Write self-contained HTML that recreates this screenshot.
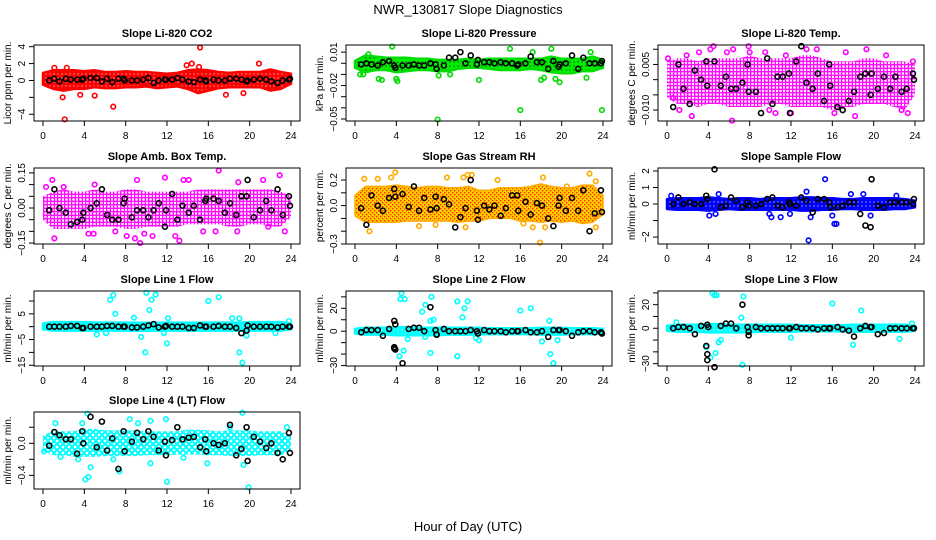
<!DOCTYPE html>
<html><head><meta charset="utf-8"><style>
html,body{margin:0;padding:0;background:#fff;}
svg{display:block;font-family:"Liberation Sans",sans-serif;}
</style></head><body>
<svg id="chart" width="936" height="540" viewBox="0 0 936 540" xmlns="http://www.w3.org/2000/svg">
<defs>
<pattern id="pRed" width="4" height="4" patternUnits="userSpaceOnUse"><rect width="4" height="4" fill="#ff0000"/><rect x="1.5" y="1.5" width="1" height="1" fill="#fff"/></pattern>
<pattern id="pGreen" width="4" height="4" patternUnits="userSpaceOnUse"><rect width="4" height="4" fill="#00ee00"/><rect x="1.5" y="1.5" width="1" height="1" fill="#000"/></pattern>
<pattern id="pMag" width="7" height="7" patternUnits="userSpaceOnUse"><rect width="7" height="7" fill="#fff"/><circle cx="3.5" cy="3.5" r="2" fill="none" stroke="#ff00ff" stroke-width="1.4"/><circle cx="0" cy="0" r="1.8" fill="none" stroke="#ff00ff" stroke-width="1.2"/><circle cx="7" cy="7" r="1.8" fill="none" stroke="#ff00ff" stroke-width="1.2"/><circle cx="0" cy="7" r="1.8" fill="none" stroke="#ff00ff" stroke-width="1.2"/><circle cx="7" cy="0" r="1.8" fill="none" stroke="#ff00ff" stroke-width="1.2"/></pattern>
<pattern id="pRH" width="4" height="4" patternUnits="userSpaceOnUse"><rect width="4" height="4" fill="#ffcc00"/><rect x="0" y="0" width="1.3" height="1.3" fill="#ff2200"/><rect x="2" y="2" width="1.3" height="1.3" fill="#ff2200"/></pattern>
<pattern id="pBlue" width="4" height="4" patternUnits="userSpaceOnUse"><rect width="4" height="4" fill="#0000ff"/><rect x="1.5" y="1.5" width="1" height="1" fill="#fff"/></pattern>
<pattern id="pCyan" width="4" height="4" patternUnits="userSpaceOnUse"><rect width="4" height="4" fill="#00ffff"/><rect x="1.5" y="1.5" width="1" height="1" fill="#fff"/></pattern>
<pattern id="pCyanS" width="6" height="6" patternUnits="userSpaceOnUse"><rect width="6" height="6" fill="#fff"/><circle cx="3" cy="3" r="2.2" fill="none" stroke="#00ffff" stroke-width="1.7"/><circle cx="0" cy="0" r="2" fill="none" stroke="#00ffff" stroke-width="1.5"/><circle cx="6" cy="6" r="2" fill="none" stroke="#00ffff" stroke-width="1.5"/><circle cx="0" cy="6" r="2" fill="none" stroke="#00ffff" stroke-width="1.5"/><circle cx="6" cy="0" r="2" fill="none" stroke="#00ffff" stroke-width="1.5"/></pattern>
</defs>
<text x="468" y="14" text-anchor="middle" font-size="13">NWR_130817  Slope Diagnostics</text>
<text x="468" y="531" text-anchor="middle" font-size="13">Hour of Day (UTC)</text>
</svg>
<script>
// ----- shared data -----
const bandHours = [0,1,2,3,4,5,6,7,8,9,10,11,12,13,14,15,16,17,18,19,20,21,22,23,24];
const xTicks = [0,4,8,12,16,20,24];
const blackHours = [0.6,1.1,1.6,2.2,2.7,3.3,3.8,3.9,4.6,5.2,5.7,6.2,6.7,7.3,7.8,7.9,8.6,9.1,9.7,10.2,10.7,11.2,11.8,11.9,12.5,13.0,13.5,14.1,14.6,15.2,15.7,15.8,16.5,17.0,17.6,18.1,18.7,19.2,19.7,19.8,20.4,21.0,21.6,22.1,22.7,23.2,23.8,23.9];

// CO2
const co2Hi = [0.9,1.2,1.2,1.2,1.1,1.2,1.0,1.0,1.1,1.0,1.0,0.9,0.8,0.9,1.2,1.3,1.2,1.0,0.9,1.0,1.0,1.0,1.3,1.0,0.8];
const co2Lo = [-0.5,-1.0,-1.2,-1.0,-1.0,-0.8,-0.9,-0.9,-0.8,-0.8,-0.7,-0.9,-0.8,-0.7,-1.0,-1.5,-1.2,-0.9,-0.8,-0.8,-0.8,-0.8,-1.2,-1.0,-0.4];
const co2Out = [[2.1,-4.6],[6.8,-3.1],[15.2,3.9],[1.9,-2.0],[3.6,-1.7],[5.0,-1.8],[17.7,-1.7],[19.4,-1.5],[14.4,2.0],[20.9,2.0],[1.1,1.5],[2.3,1.5],[13.9,1.8],[15.1,1.6]];
const co2Black = [0,0.2,-0.1,0.2,0.1,0.1,0.1,0.2,0.3,0.3,-0.1,0.2,-0.2,0.2,0.2,0,0,0,0.1,0.3,-0.3,0,0.1,0.1,0.1,0.3,0.1,-0.1,-0.2,0.1,0,-0.1,0.1,0,0,0.2,0.2,0.1,-0.1,0,0.1,0.2,0.1,-0.1,-0.3,0,0.1,0.2];
const co2Ticks = [-4,-2,0,2,4];
const co2Labels = ["−4","","0","2","4"];

// Pressure
const presHi = [0.002,0.007,0.006,0.005,0.005,0.005,0.004,0.004,0.003,0.003,0.003,0.004,0.003,0.004,0.004,0.004,0.004,0.004,0.004,0.006,0.004,0.004,0.004,0.006,0.003];
const presLo = [-0.004,-0.008,-0.006,-0.006,-0.008,-0.007,-0.006,-0.006,-0.007,-0.007,-0.005,-0.004,-0.004,-0.005,-0.006,-0.006,-0.006,-0.005,-0.006,-0.008,-0.009,-0.009,-0.007,-0.007,-0.004];
const presOut = [[0.5,-0.010],[0.8,-0.010],[2.3,-0.014],[2.6,-0.015],[3.6,0.015],[4.0,-0.014],[4.1,-0.016],[8.0,-0.0505],[8.1,-0.011],[9.2,-0.010],[12.0,-0.015],[15.0,0.013],[16.0,-0.042],[18.0,-0.015],[18.3,-0.013],[19.0,0.013],[19.4,-0.014],[19.8,-0.017],[22.4,-0.013],[23.9,-0.042],[1.3,0.008],[17.2,0.010],[22.8,0.010]];
const presBlack = [-0.001,0,-0.001,-0.002,0.001,0.002,-0.002,-0.004,-0.002,-0.002,-0.001,-0.002,-0.002,0,-0.001,-0.005,-0.002,0.005,0.005,0.010,0,0.007,-0.001,0.003,0.001,0.001,0,0.001,0,0,-0.002,-0.001,0,0.006,0.001,0.001,-0.005,0.002,-0.003,-0.001,0,0.007,-0.005,0.005,0,0,0,0.002];
const presTicks = [0.01,0,-0.01,-0.02,-0.03,-0.04,-0.05];
const presLabels = ["0.01","","","−0.02","","","−0.05"];

// Li-820 Temp
const tempHi = [0.006,0.007,0.007,0.006,0.007,0.007,0.007,0.007,0.008,0.007,0.007,0.007,0.007,0.008,0.008,0.007,0.006,0.006,0.006,0.007,0.007,0.006,0.006,0.006,0.005];
const tempLo = [-0.006,-0.008,-0.008,-0.009,-0.008,-0.008,-0.009,-0.009,-0.009,-0.009,-0.008,-0.008,-0.009,-0.009,-0.009,-0.009,-0.010,-0.009,-0.009,-0.008,-0.008,-0.008,-0.009,-0.010,-0.005];
const tempOut = [[0.1,0.007],[0.6,-0.006],[1.2,-0.010],[1.9,0.008],[2.4,-0.012],[3.1,0.009],[4.2,0.010],[4.5,0.011],[6.3,-0.0135],[6.4,0.010],[7.9,0.011],[8.0,0.009],[9.5,0.009],[10.5,-0.011],[12.0,-0.011],[13.5,0.010],[14.5,0.010],[16.2,-0.011],[17.3,0.009],[18.2,-0.012],[19.3,0.010],[21.2,0.008],[22.7,-0.010],[23.3,-0.011],[23.8,0.006],[5.8,0.009],[9.9,-0.010],[11.5,0.008]];
const tempBlack = [-0.009,0.005,-0.003,-0.008,0.003,0,0.006,-0.002,0.006,-0.002,0.001,-0.003,-0.003,-0.001,0.005,-0.004,-0.004,-0.011,0.007,-0.008,0.001,0.001,0.002,-0.011,0.006,0.011,-0.001,-0.003,0.002,-0.007,0.005,-0.002,-0.009,-0.010,-0.007,-0.004,0.001,0.002,-0.005,0.002,-0.003,0.001,-0.003,0.001,-0.004,-0.003,0.002,0];
const tempTicks = [0.010,0.005,0,-0.005,-0.010];
const tempLabels = ["","0.005","","","−0.010"];

// Amb box temp
const ambHi = [0.05,0.07,0.08,0.07,0.07,0.08,0.07,0.07,0.08,0.08,0.07,0.07,0.07,0.07,0.07,0.08,0.08,0.08,0.08,0.08,0.08,0.08,0.08,0.07,0.05];
const ambLo = [-0.05,-0.09,-0.09,-0.09,-0.09,-0.08,-0.08,-0.08,-0.09,-0.09,-0.08,-0.08,-0.08,-0.08,-0.07,-0.07,-0.07,-0.07,-0.08,-0.08,-0.07,-0.07,-0.08,-0.08,-0.04];
const ambOut = [[0.3,0.09],[1.1,-0.13],[0.9,0.12],[4.4,-0.11],[4.9,-0.11],[7.0,-0.10],[8.1,-0.12],[8.9,-0.13],[9.4,-0.15],[9.8,-0.11],[9.1,0.12],[11.8,0.13],[10.6,-0.12],[12.8,-0.12],[13.2,-0.14],[13.6,0.12],[14.1,0.12],[17.0,0.16],[16.7,-0.10],[15.5,-0.10],[18.9,0.11],[18.8,-0.10],[21.3,0.12],[22.9,0.14],[23.4,-0.10],[21.8,-0.08],[5.0,0.10],[2.0,0.09]];
const ambBlack = [-0.01,0.08,0,-0.02,-0.07,-0.06,-0.05,-0.02,0,0.02,0.08,-0.03,-0.05,-0.05,0.02,0.04,-0.04,-0.01,-0.01,-0.04,-0.01,0.02,-0.08,-0.01,0.06,-0.05,0.01,-0.02,0.01,-0.05,0.03,0.04,0.04,0.03,-0.02,0.02,-0.03,0.05,0.05,0.12,-0.04,-0.01,0.03,-0.01,0.08,-0.03,0.05,0.01];
const ambTicks = [0.15,0.10,0.05,0,-0.05,-0.10,-0.15];
const ambLabels = ["0.15","","","0.00","","","−0.15"];

// Gas stream RH
const rhHi = [0.08,0.15,0.15,0.15,0.16,0.15,0.14,0.15,0.15,0.14,0.14,0.15,0.12,0.12,0.14,0.14,0.14,0.15,0.17,0.15,0.14,0.14,0.16,0.16,0.08];
const rhLo = [-0.08,-0.13,-0.13,-0.13,-0.13,-0.12,-0.12,-0.12,-0.12,-0.12,-0.13,-0.12,-0.12,-0.10,-0.10,-0.10,-0.12,-0.12,-0.13,-0.12,-0.13,-0.12,-0.14,-0.13,-0.07];
const rhOut = [[0.9,0.21],[1.4,-0.20],[2.2,0.21],[3.9,0.26],[3.5,0.22],[6.2,-0.16],[7.8,-0.15],[8.9,0.22],[10.5,0.22],[10.7,-0.17],[10.9,0.24],[11.3,0.24],[13.8,0.20],[16.3,-0.14],[17.2,-0.17],[17.9,-0.29],[18.2,0.22],[20.5,0.15],[22.7,0.25],[23.3,-0.17],[23.3,0.19],[18.4,-0.17]];
const rhBlack = [-0.02,-0.15,0.08,0,-0.04,0.06,0.13,0.07,0.09,-0.01,0.15,-0.04,0.06,-0.03,0.07,-0.02,0.05,0.01,-0.17,-0.09,-0.02,0.20,-0.04,-0.11,0,-0.03,0,-0.08,-0.02,0.08,0.08,-0.04,0.03,-0.07,0.02,0,-0.10,-0.16,0,0.06,-0.04,0.06,-0.04,0.12,-0.20,-0.06,0.12,-0.05];
const rhTicks = [0.2,0.1,0,-0.1,-0.2,-0.3];
const rhLabels = ["0.2","","0.0","","","−0.3"];

// Sample flow
const sfHi = [0.3,0.35,0.35,0.35,0.4,0.35,0.3,0.35,0.35,0.3,0.35,0.35,0.35,0.4,0.4,0.35,0.35,0.3,0.3,0.35,0.35,0.35,0.35,0.3,0.2];
const sfLo = [-0.3,-0.35,-0.35,-0.35,-0.4,-0.35,-0.3,-0.35,-0.35,-0.35,-0.35,-0.35,-0.35,-0.4,-0.4,-0.35,-0.35,-0.3,-0.3,-0.35,-0.35,-0.35,-0.3,-0.3,-0.2];
const sfOut = [[0.4,0.5],[4.1,-0.7],[4.7,-0.6],[5.0,0.6],[9.9,-0.6],[10.1,-0.8],[11.0,-0.8],[11.9,-0.6],[13.5,0.75],[13.7,-2.2],[13.9,-0.8],[15.3,1.5],[16.0,-0.7],[16.2,-1.2],[16.4,-1.2],[17.8,0.6],[19.0,0.6],[19.7,-0.7],[22.2,0.5]];
const sfBlack = [0,0.4,0,0.1,0,0,0.5,0.3,2.1,-0.2,-0.1,0.4,0.2,-0.2,0.1,-0.1,-0.1,0,0.3,0.4,-0.1,-0.2,0.1,0,-0.1,0.4,0.2,-0.5,0.3,0.3,0.1,-0.2,-0.2,-0.1,0.1,0.1,-0.6,-1.3,-1.4,1.5,-0.1,-0.2,0.1,0.1,0.1,0.1,0,0.3];
const sfTicks = [2,1,0,-1,-2];
const sfLabels = ["2","1","0","","−2"];

// Line 1 flow
const l1Hi = [1.2,1.8,1.8,1.8,1.8,1.6,1.6,1.6,1.6,1.5,1.5,1.5,1.5,1.5,1.5,1.5,1.6,1.6,1.6,1.6,1.8,1.8,1.8,1.8,1.2];
const l1Lo = [-1.0,-1.5,-1.5,-1.5,-1.5,-1.5,-1.5,-1.5,-1.5,-1.6,-1.6,-1.5,-1.5,-1.5,-1.6,-1.5,-1.5,-1.5,-1.5,-1.5,-1.5,-1.5,-1.5,-1.5,-1.0];
const l1Out = [[6.5,10.5],[6.8,12.3],[7.0,5.0],[10.0,13.2],[10.3,6.5],[10.5,10.5],[10.9,12.5],[16.0,10.0],[17.0,11.5],[5.2,-3.0],[6.1,-2.5],[9.5,-4.0],[9.9,-10.0],[11.7,-2.5],[12.0,-6.5],[8.8,3.5],[12.1,3.3],[18.3,3.3],[19.0,3.2],[19.0,-10.0],[19.3,-14.0],[19.7,-3.5],[22.5,-2.5],[23.8,2.2]];
const l1Black = [0,0,0,0,0.3,0.3,-0.5,-0.5,0,0,0,0.3,0.3,0,0,0,-0.3,-0.3,0,0.5,1,-0.3,0,0.3,0,0,0,-0.5,-0.5,0.5,0,0,0,0.3,0,0,-0.5,-2.5,-1.5,0.5,0,0,0,0,-0.3,0,0,0];
const l1Ticks = [10,5,0,-5,-10,-15];
const l1Labels = ["","5","","−5","","−15"];

// Line 2 flow
const l2Hi = [2,3,3,3,3.5,3.5,3,3,3,3,3,3,3,2.5,2.5,2.5,2.5,2.5,3,3,3,2.5,2.5,2.5,2];
const l2Lo = [-2,-3,-3,-3,-3.5,-3.5,-3.5,-3.5,-3.5,-3,-3,-3,-3,-2.5,-2.5,-2.5,-2.5,-2.5,-3,-3,-3,-2.5,-2.5,-2.5,-2];
const l2Out = [[4.5,33],[4.4,28],[4.8,28],[6.5,17],[6.8,23],[7.4,30],[7.3,9],[7.6,10],[9.9,26],[10.4,12],[10.6,20],[10.9,26],[16.0,18],[17.0,20],[18.8,9],[4.3,-22],[4.7,-17],[5.1,-7],[7.3,-19],[9.9,-22],[11.7,-6],[12.0,-8],[18.1,-9],[18.9,-20],[19.2,-28],[19.6,-8],[6.8,-5]];
const l2Black = [-1,1,1,1,-4,2,-15,6,-28,2,3,3,0,21,1,-3,2,0,0,0,0,1,0,-2,1,0,0,0,-1,0,0,0,1,-1,-1,0,-5,1,1,1,0,-4,-1,0,0,-1,-1,-2];
const l2BlackExtra = [[3.8,-14],[3.9,-16],[3.8,9],[7.9,-3]];
const l2Ticks = [30,20,10,0,-10,-20,-30];
const l2Labels = ["","20","","0","","","−30"];

// Line 3 flow
const l3Hi = [2,3,3,3,3.5,3.5,3,3,3,3,3,3,3,2.5,2.5,2.5,2.5,2.5,3,3,3,3,3,3,2];
const l3Lo = [-2,-3,-3,-3,-3.5,-3.5,-3.5,-3.5,-3.5,-3,-3,-3,-3,-2.5,-2.5,-2.5,-2.5,-2.5,-3,-3,-3,-3,-3,-3,-2];
const l3Out = [[4.4,30],[4.6,28],[4.8,28],[7.4,27],[16.0,21],[18.8,15],[7.2,9],[3.8,-16],[4.2,-25],[4.7,-21],[5.0,-12],[5.2,-10],[7.3,-31],[12.0,-8],[18.0,-14],[22.5,-9],[23.7,4],[0.9,5]];
const l3Black = [0,1,1,0,-5,2,-15,3,-33,2,4,4,0,20,1,-3,1,0,0,0,0,0,0,0,1,0,0,0,-1,0,0,0,1,-1,-2,-7,0,2,1,1,-5,-4,0,0,0,0,0,0];
const l3BlackExtra = [[3.9,-22],[3.9,-27],[7.9,-6],[4.0,1]];
const l3Ticks = [30,20,10,0,-10,-20,-30];
const l3Labels = ["","20","","0","","","−30"];

// Line 4 flow
const l4Hi = [0.1,0.15,0.15,0.15,0.18,0.18,0.16,0.16,0.16,0.16,0.15,0.15,0.15,0.15,0.17,0.17,0.16,0.15,0.16,0.16,0.16,0.15,0.15,0.15,0.1];
const l4Lo = [-0.1,-0.15,-0.15,-0.17,-0.17,-0.17,-0.16,-0.16,-0.16,-0.16,-0.15,-0.15,-0.15,-0.14,-0.14,-0.14,-0.15,-0.15,-0.16,-0.16,-0.16,-0.15,-0.15,-0.15,-0.1];
const l4Out = [[0.1,-0.10],[1.2,0.25],[3.8,0.25],[4.3,0.37],[4.1,-0.45],[4.4,-0.42],[4.6,-0.30],[7.4,-0.35],[3.4,-0.20],[8.4,0.30],[9.2,0.25],[10.4,0.28],[11.9,0.30],[12.0,-0.48],[13.6,-0.18],[15.9,-0.25],[18.1,0.20],[19.3,0.38],[19.9,-0.55],[19.4,-0.27],[23.6,0.20],[6.8,-0.20],[10.4,-0.25],[1.7,-0.17]];
const l4Black = [-0.03,0.14,0.10,0.05,0.05,-0.13,0.15,0.0,0.33,-0.05,0.27,-0.09,0.06,-0.32,0.15,-0.10,0.02,0.13,0.05,0.15,0.08,-0.09,0.02,-0.15,0.04,0.20,0.05,0.07,0.08,-0.05,0.05,-0.10,0.0,-0.02,0.0,0.23,-0.15,-0.07,0.20,-0.22,0.08,0.02,-0.06,0.0,-0.12,-0.20,0.13,-0.12];
const l4Ticks = [0.2,0,-0.2,-0.4];
const l4Labels = ["","0.0","","−0.4"];

const panels = [
 {name:"co2",title:"Slope Li-820 CO2",ylab:"Licor ppm per min.",col:0,row:0,ymin:-4.8,ymax:4.2,hi:co2Hi,lo:co2Lo,out:co2Out,blk:co2Black,ext:[],ticks:co2Ticks,labels:co2Labels,fill:"url(#pRed)",color:"#ff0000",sw:2.5},
 {name:"pressure",title:"Slope Li-820 Pressure",ylab:"kPa per min.",col:1,row:0,ymin:-0.0518,ymax:0.0164,hi:presHi,lo:presLo,out:presOut,blk:presBlack,ext:[],ticks:presTicks,labels:presLabels,fill:"url(#pGreen)",color:"#00dd00",sw:2.5},
 {name:"li820-temp",title:"Slope Li-820 Temp.",ylab:"degrees C per min.",col:2,row:0,ymin:-0.0136,ymax:0.0114,hi:tempHi,lo:tempLo,out:tempOut,blk:tempBlack,ext:[],ticks:tempTicks,labels:tempLabels,fill:"url(#pMag)",color:"#ff00ff",sw:0},
 {name:"amb-box-temp",title:"Slope Amb. Box Temp.",ylab:"degrees C per min.",col:0,row:1,ymin:-0.154,ymax:0.171,hi:ambHi,lo:ambLo,out:ambOut,blk:ambBlack,ext:[],ticks:ambTicks,labels:ambLabels,fill:"url(#pMag)",color:"#ff00ff",sw:0},
 {name:"gas-stream-rh",title:"Slope Gas Stream RH",ylab:"percent per min.",col:1,row:1,ymin:-0.30,ymax:0.294,hi:rhHi,lo:rhLo,out:rhOut,blk:rhBlack,ext:[],ticks:rhTicks,labels:rhLabels,fill:"url(#pRH)",color:"#ffaa00",sw:1.5},
 {name:"sample-flow",title:"Slope Sample Flow",ylab:"ml/min per min.",col:2,row:1,ymin:-2.42,ymax:2.18,hi:sfHi,lo:sfLo,out:sfOut,blk:sfBlack,ext:[],ticks:sfTicks,labels:sfLabels,fill:"url(#pBlue)",color:"#0000ff",sw:2.5},
 {name:"line1-flow",title:"Slope Line 1 Flow",ylab:"ml/min per min.",col:0,row:2,ymin:-15.3,ymax:13.9,hi:l1Hi,lo:l1Lo,out:l1Out,blk:l1Black,ext:[],ticks:l1Ticks,labels:l1Labels,fill:"url(#pCyan)",color:"#00ffff",sw:2.5},
 {name:"line2-flow",title:"Slope Line 2 Flow",ylab:"ml/min per min.",col:1,row:2,ymin:-30.4,ymax:35.1,hi:l2Hi,lo:l2Lo,out:l2Out,blk:l2Black,ext:l2BlackExtra,ticks:l2Ticks,labels:l2Labels,fill:"url(#pCyan)",color:"#00ffff",sw:2.5},
 {name:"line3-flow",title:"Slope Line 3 Flow",ylab:"ml/min per min.",col:2,row:2,ymin:-32,ymax:31.6,hi:l3Hi,lo:l3Lo,out:l3Out,blk:l3Black,ext:l3BlackExtra,ticks:l3Ticks,labels:l3Labels,fill:"url(#pCyan)",color:"#00ffff",sw:2.5},
 {name:"line4-flow",title:"Slope Line 4 (LT) Flow",ylab:"ml/min per min.",col:0,row:3,ymin:-0.57,ymax:0.39,hi:l4Hi,lo:l4Lo,out:l4Out,blk:l4Black,ext:[],ticks:l4Ticks,labels:l4Labels,fill:"url(#pCyanS)",color:"#00ffff",sw:0}
];
const rowTops = [45,168,291,412];
const rowBots = [121,244,366,489];

const NS = "http://www.w3.org/2000/svg";
const svg = document.getElementById("chart");
function mk(tag, attrs, parent){
  const e = document.createElementNS(NS, tag);
  for (const k in attrs) e.setAttribute(k, attrs[k]);
  parent.appendChild(e);
  return e;
}

panels.forEach(p => {
  const L = 34 + 312*p.col, R = L + 266;
  const T = rowTops[p.row], B = rowBots[p.row];
  const xs = h => L + 9 + h*(248/24);
  const ys = v => T + (p.ymax - v)/(p.ymax - p.ymin)*(B - T);
  const g = mk("g", {}, svg);
  
  

  let d = "";
  bandHours.forEach((h,i) => { d += (i ? "L" : "M") + xs(h).toFixed(1) + "," + ys(p.hi[i]).toFixed(1); });
  for (let i = bandHours.length-1; i >= 0; i--) d += "L" + xs(bandHours[i]).toFixed(1) + "," + ys(p.lo[i]).toFixed(1);
  const band = mk("path", {d: d + "Z", fill: p.fill, stroke: p.sw ? p.color : "none", "stroke-width": p.sw, "stroke-linejoin": "round"}, g);
  
  

  p.out.forEach(pt => {
    const c = mk("circle", {cx: xs(pt[0]), cy: ys(pt[1]), r: 2.3, fill: "none", stroke: p.color, "stroke-width": 1.6}, g);
    
    
  });
  p.blk.forEach((v,i) => {
    const c = mk("circle", {cx: xs(blackHours[i]), cy: ys(v), r: 2.5, fill: "none", stroke: "#000", "stroke-width": 1.6}, g);
    
    
  });
  p.ext.forEach(pt => {
    const c = mk("circle", {cx: xs(pt[0]), cy: ys(pt[1]), r: 2.5, fill: "none", stroke: "#000", "stroke-width": 1.6}, g);
    
    
  });

  const box = mk("rect", {x: L, y: T, width: R-L, height: B-T, fill: "none", stroke: "#000", "stroke-width": 1}, g);
  
  

  const t = mk("text", {x: (L+R)/2, y: T-8, "text-anchor": "middle", "font-size": 11, "font-weight": "bold"}, g);
  t.textContent = p.title;
  
  

  xTicks.forEach(h => {
    const x = xs(h);
    mk("line", {x1: x, x2: x, y1: B, y2: B+5, stroke: "#000"}, g);
    const lb = mk("text", {x: x, y: B+18, "text-anchor": "middle", "font-size": 10}, g);
    lb.textContent = h;
    
    
  });
  p.ticks.forEach((v,i) => {
    const y = ys(v);
    mk("line", {x1: L-5, x2: L, y1: y, y2: y, stroke: "#000"}, g);
    if (p.labels[i]) {
      const lb = mk("text", {x: 0, y: 0, "text-anchor": "middle", "font-size": 10, transform: "translate(" + (L-9) + "," + y + ") rotate(-90)"}, g);
      lb.textContent = p.labels[i];
      
      
    }
  });
  const yl = mk("text", {x: 0, y: 0, "text-anchor": "middle", "font-size": 10, transform: "translate(" + (L-23) + "," + ((T+B)/2) + ") rotate(-90)"}, g);
  yl.textContent = p.ylab;
  
  
});
</script>
</body></html>
